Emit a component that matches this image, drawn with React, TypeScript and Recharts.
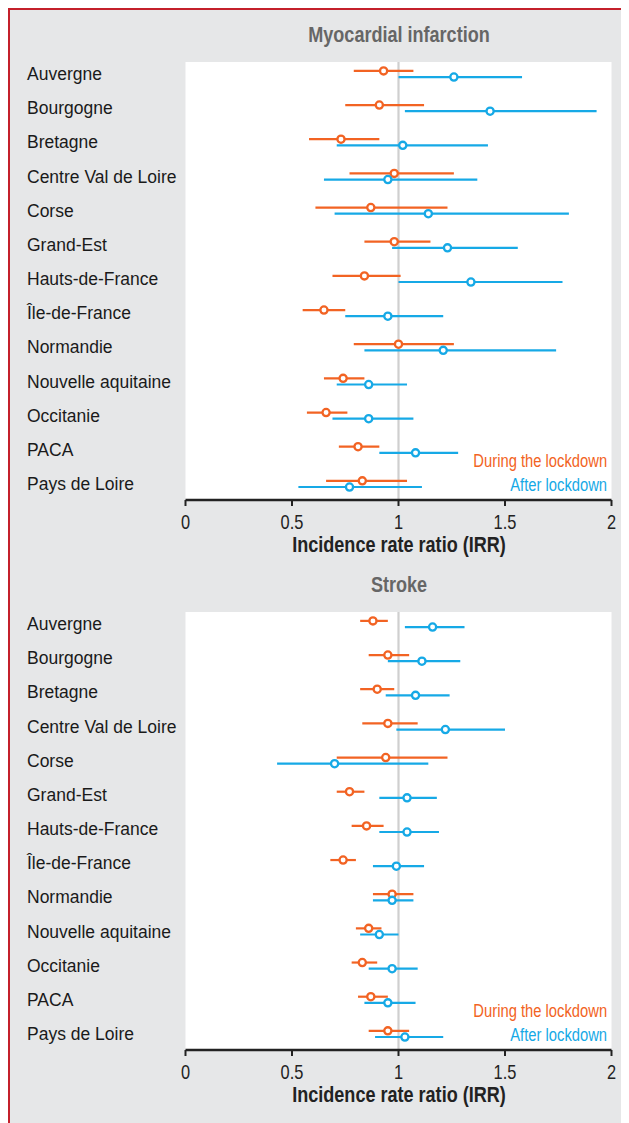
import React from "react";
import {
  ScatterChart,
  Scatter,
  XAxis,
  YAxis,
  ErrorBar,
  ReferenceLine,
  CartesianGrid,
} from "recharts";

const regions = [
  "Auvergne",
  "Bourgogne",
  "Bretagne",
  "Centre Val de Loire",
  "Corse",
  "Grand-Est",
  "Hauts-de-France",
  "Île-de-France",
  "Normandie",
  "Nouvelle aquitaine",
  "Occitanie",
  "PACA",
  "Pays de Loire",
];

const xTicks = [0, 0.5, 1, 1.5, 2];

// Myocardial infarction
const miDuringIrr = [0.93, 0.91, 0.73, 0.98, 0.87, 0.98, 0.84, 0.65, 1.0, 0.74, 0.66, 0.81, 0.83];
const miDuringLow = [0.79, 0.75, 0.58, 0.77, 0.61, 0.84, 0.69, 0.55, 0.79, 0.65, 0.57, 0.72, 0.66];
const miDuringHigh = [1.07, 1.12, 0.91, 1.26, 1.23, 1.15, 1.01, 0.75, 1.26, 0.84, 0.76, 0.91, 1.04];
const miAfterIrr = [1.26, 1.43, 1.02, 0.95, 1.14, 1.23, 1.34, 0.95, 1.21, 0.86, 0.86, 1.08, 0.77];
const miAfterLow = [1.0, 1.03, 0.71, 0.65, 0.7, 0.97, 1.0, 0.75, 0.84, 0.71, 0.69, 0.91, 0.53];
const miAfterHigh = [1.58, 1.93, 1.42, 1.37, 1.8, 1.56, 1.77, 1.21, 1.74, 1.04, 1.07, 1.28, 1.11];

// Stroke
const stDuringIrr = [0.88, 0.95, 0.9, 0.95, 0.94, 0.77, 0.85, 0.74, 0.97, 0.86, 0.83, 0.87, 0.95];
const stDuringLow = [0.82, 0.86, 0.82, 0.83, 0.71, 0.71, 0.78, 0.68, 0.88, 0.8, 0.78, 0.81, 0.86];
const stDuringHigh = [0.95, 1.05, 0.98, 1.09, 1.23, 0.84, 0.93, 0.8, 1.07, 0.92, 0.9, 0.95, 1.05];
const stAfterIrr = [1.16, 1.11, 1.08, 1.22, 0.7, 1.04, 1.04, 0.99, 0.97, 0.91, 0.97, 0.95, 1.03];
const stAfterLow = [1.03, 0.95, 0.94, 0.99, 0.43, 0.91, 0.91, 0.88, 0.88, 0.82, 0.86, 0.84, 0.89];
const stAfterHigh = [1.31, 1.29, 1.24, 1.5, 1.14, 1.18, 1.19, 1.12, 1.07, 1.0, 1.09, 1.08, 1.21];

const ORANGE = "#f26323";
const BLUE = "#16a9e6";
const SANS = '"Liberation Sans", Arial, sans-serif';
// no narrow font installed, so squeeze Liberation Sans horizontally
const SQUEEZE = 0.82;

const build = (irr: number[], low: number[], high: number[], offset: number) =>
  irr.map((v, i) => ({ y: i + offset, x: v, err: [v - low[i], high[i] - v] }));

const dot = (color: string) => (props: any) => (
  <circle cx={props.cx} cy={props.cy} r={3.6} fill="#fff" stroke={color} strokeWidth={2.3} />
);

const RegionTick = (props: any) => (
  <text x={17} y={props.y} dy="0.35em" textAnchor="start" fontSize={17.5} fontFamily={SANS} fill="#1a1a1a">
    {regions[props.payload.value]}
  </text>
);

const IrrTick = (props: any) => (
  <text
    transform={`translate(${props.x},${props.y + 14}) scale(${SQUEEZE},1)`}
    textAnchor="middle"
    dy="0.35em"
    fontSize={20}
    fontFamily={SANS}
    fill="#222"
  >
    {String(props.payload.value)}
  </text>
);

const squeezed = (extra: React.CSSProperties): React.CSSProperties => ({
  position: "absolute",
  fontFamily: SANS,
  whiteSpace: "nowrap",
  transform: `scaleX(${SQUEEZE})`,
  ...extra,
});

type Point = { x: number; y: number; err: number[] };
type PanelProps = { title: string; top: number; during: Point[]; after: Point[] };

const Panel = ({ title, top, during, after }: PanelProps) => (
  <div style={{ position: "absolute", left: 0, top, width: 619, height: 550 }}>
    <div
      style={squeezed({
        left: 175.5,
        width: 426,
        top: 13,
        textAlign: "center",
        fontWeight: "bold",
        fontSize: 22,
        lineHeight: "24px",
        color: "#666",
      })}
    >
      {title}
    </div>
    <ScatterChart width={619} height={550} margin={{ top: 52, right: 17.5, left: 0, bottom: 0 }}>
      <CartesianGrid fill="#fff" horizontal={false} vertical={false} />
      <XAxis
        type="number"
        dataKey="x"
        domain={[0, 2]}
        ticks={xTicks}
        height={60}
        tickSize={6}
        axisLine={{ stroke: "#222", strokeWidth: 2.3 }}
        tickLine={{ stroke: "#222", strokeWidth: 2 }}
        tick={IrrTick}
      />
      <YAxis
        type="number"
        dataKey="y"
        domain={[-0.35, 12.47]}
        reversed
        ticks={regions.map((_, i) => i)}
        interval={0}
        width={175.5}
        axisLine={false}
        tickLine={false}
        tick={RegionTick}
      />
      <ReferenceLine x={1} stroke="#cfcfcf" strokeWidth={2.2} />
      <Scatter data={during} shape={dot(ORANGE)} isAnimationActive={false}>
        <ErrorBar dataKey="err" direction="x" width={0} stroke={ORANGE} strokeWidth={2.2} />
      </Scatter>
      <Scatter data={after} shape={dot(BLUE)} isAnimationActive={false}>
        <ErrorBar dataKey="err" direction="x" width={0} stroke={BLUE} strokeWidth={2.2} />
      </Scatter>
    </ScatterChart>
    <div
      style={squeezed({
        left: 175.5,
        width: 426,
        top: 522,
        textAlign: "center",
        fontWeight: "bold",
        fontSize: 22,
        lineHeight: "26px",
        color: "#222",
      })}
    >
      Incidence rate ratio (IRR)
    </div>
    <div
      style={squeezed({
        right: 22.3,
        top: 441,
        fontSize: 18,
        lineHeight: "21px",
        color: ORANGE,
        transformOrigin: "right center",
      })}
    >
      During the lockdown
    </div>
    <div
      style={squeezed({
        right: 22.3,
        top: 464.5,
        fontSize: 18,
        lineHeight: "21px",
        color: BLUE,
        transformOrigin: "right center",
      })}
    >
      After lockdown
    </div>
  </div>
);

const App = () => {
  return (
    <>
      <style>{`html, body { overflow: hidden; }`}</style>
      <div
        style={{
          position: "relative",
          width: 621,
          height: 1115,
          boxSizing: "border-box",
          borderLeft: "2px solid #c4202b",
          borderTop: "2px solid #c4202b",
          background: "#e6e7e8",
          overflow: "hidden",
        }}
      >
        <Panel
          title="Myocardial infarction"
          top={0}
          during={build(miDuringIrr, miDuringLow, miDuringHigh, -0.09)}
          after={build(miAfterIrr, miAfterLow, miAfterHigh, 0.09)}
        />
        <Panel
          title="Stroke"
          top={550}
          during={build(stDuringIrr, stDuringLow, stDuringHigh, -0.09)}
          after={build(stAfterIrr, stAfterLow, stAfterHigh, 0.09)}
        />
      </div>
    </>
  );
};

export default App;
